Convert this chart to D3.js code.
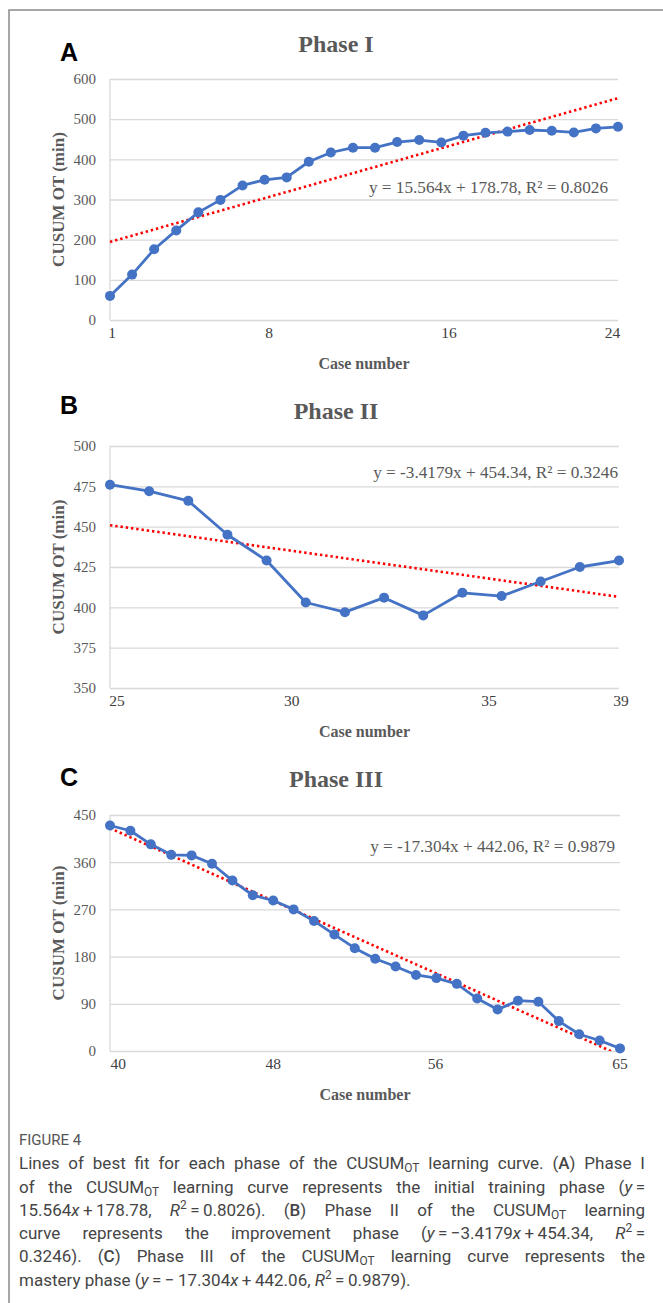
<!DOCTYPE html>
<html>
<head>
<meta charset="utf-8">
<script src="https://cdn.jsdelivr.net/npm/d3@7"></script>
<style>
  html, body { margin: 0; padding: 0; background: #fff; }
  body { width: 663px; height: 1303px; position: relative; overflow: hidden; }
  svg { position: absolute; left: 0; top: 0; }
  #caption { position: absolute; left: 19px; top: 1129px; width: 626px; font-family: Roboto, "Noto Sans", sans-serif; font-size: 17px; line-height: 23.3px; color: #454545; font-weight: 400; }
  #caption .ln { text-align: justify; text-align-last: justify; white-space: nowrap; }
  #caption .last { text-align: left; text-align-last: left; }
  #caption .fig { color: #555; font-size: 15px; font-weight: 400; }
  #caption sub { font-size: 70%; vertical-align: -0.25em; line-height: 0; }
  #caption sup { font-size: 70%; vertical-align: 0.55em; line-height: 0; }
  #caption b { font-weight: 500; }
</style>
</head>
<body>
<svg id="chart" width="663" height="1303"></svg>
<div id="caption">
  <div class="fig">FIGURE 4</div>
  <div class="ln">Lines of best fit for each phase of the CUSUM<sub>OT</sub> learning curve. (<b>A</b>) Phase I</div>
  <div class="ln">of the CUSUM<sub>OT</sub> learning curve represents the initial training phase (<i>y</i>&#8201;=</div>
  <div class="ln">15.564<i>x</i>&#8201;+&#8201;178.78, <i>R</i><sup>2</sup>&#8201;=&#8201;0.8026). (<b>B</b>) Phase II of the CUSUM<sub>OT</sub> learning</div>
  <div class="ln">curve represents the improvement phase (<i>y</i>&#8201;=&#8201;−3.4179<i>x</i>&#8201;+&#8201;454.34, <i>R</i><sup>2</sup>&#8201;=</div>
  <div class="ln">0.3246). (<b>C</b>) Phase III of the CUSUM<sub>OT</sub> learning curve represents the</div>
  <div class="ln last">mastery phase (<i>y</i>&#8201;=&#8201;−&#8201;17.304<i>x</i>&#8201;+&#8201;442.06, <i>R</i><sup>2</sup>&#8201;=&#8201;0.9879).</div>
</div>
<script>
// ---------- DATA ----------
const panelLetters = ["A", "B", "C"];
const panelTitles = ["Phase I", "Phase II", "Phase III"];

const phase1Values = [60, 113, 176, 223, 268, 299, 335, 349, 355, 394, 417, 429, 429, 443, 448, 442, 459, 466, 469, 473, 471, 467, 477, 481];
const phase2Values = [476, 472, 466, 445, 429, 403, 397, 406, 395, 409, 407, 416, 425, 429];
const phase3Values = [430, 420, 394, 374, 373, 357, 325, 297, 287, 270, 248, 222, 196, 176, 161, 145, 139, 128, 100, 79, 96, 94, 57, 32, 20, 5];

const trendSlopes = [15.564, -3.4179, -17.304];
const trendIntercepts = [178.78, 454.34, 442.06];
const trendR2 = ["0.8026", "0.3246", "0.9879"];

const yTicks1 = [0, 100, 200, 300, 400, 500, 600];
const yTicks2 = [350, 375, 400, 425, 450, 475, 500];
const yTicks3 = [0, 90, 180, 270, 360, 450];

const xTickLabels1 = ["1", "8", "16", "24"];
const xTickLabels2 = ["25", "30", "35", "39"];
const xTickLabels3 = ["40", "48", "56", "65"];
// positions of the tick labels along the point index (1 = first point)
const xTickIndex1 = [1.1, 8.2, 16.35, 23.75];
const xTickIndex2 = [1.18, 5.64, 10.68, 14.05];
const xTickIndex3 = [1.4, 9.0, 16.95, 26.0];

const yAxisTitle = "CUSUM OT (min)";
const xAxisTitle = "Case number";

// ---------- LAYOUT ----------
const layouts = [
  { top: 79, bottom: 320, left: 110, right: 618, titleY: 52, letterY: 61, eqX: 608, eqY: 193 },
  { top: 446, bottom: 688, left: 110, right: 619, titleY: 419, letterY: 414, eqX: 618, eqY: 478 },
  { top: 815, bottom: 1051, left: 110, right: 620, titleY: 787, letterY: 786, eqX: 615, eqY: 852 }
];
const panels = [
  { values: phase1Values, yTicks: yTicks1, xLabels: xTickLabels1, xIdx: xTickIndex1 },
  { values: phase2Values, yTicks: yTicks2, xLabels: xTickLabels2, xIdx: xTickIndex2 },
  { values: phase3Values, yTicks: yTicks3, xLabels: xTickLabels3, xIdx: xTickIndex3 }
];

const svg = d3.select("#chart");
const serif = "'Liberation Serif', 'Times New Roman', serif";
const textGray = "#595959";
const gridColor = "#d9d9d9";
const blue = "#4472C4";

// figure frame
svg.append("path")
  .attr("d", "M9,1303 L9,10 L663,10")
  .attr("fill", "none").attr("stroke", "#8a8a8a").attr("stroke-width", 1.5);

panels.forEach((p, i) => {
  const L = layouts[i];
  const n = p.values.length;
  const x = d3.scaleLinear().domain([1, n]).range([L.left, L.right]);
  const yMin = d3.min(p.yTicks), yMax = d3.max(p.yTicks);
  const y = d3.scaleLinear().domain([yMin, yMax]).range([L.bottom, L.top]);
  const g = svg.append("g");

  const clipId = "clip" + i;
  svg.append("clipPath").attr("id", clipId).append("rect")
    .attr("x", L.left - 1).attr("y", L.top).attr("width", L.right - L.left + 2).attr("height", L.bottom - L.top);

  const yAxis = d3.axisLeft(y).tickValues(p.yTicks).tickSize(-(L.right - L.left)).tickFormat(d3.format("d")).tickPadding(14);
  const ya = g.append("g").attr("transform", `translate(${L.left},0)`).call(yAxis);
  ya.select(".domain").remove();
  ya.selectAll(".tick line").attr("stroke", gridColor).attr("stroke-width", 1.3);
  ya.selectAll(".tick text").attr("font-family", serif).attr("font-size", 15).attr("fill", textGray);

  g.append("line").attr("x1", L.left).attr("x2", L.left).attr("y1", L.top).attr("y2", L.bottom)
    .attr("stroke", gridColor).attr("stroke-width", 1.3);

  g.selectAll(".xl").data(p.xLabels).enter().append("text")
    .attr("x", (d, k) => x(p.xIdx[k]))
    .attr("y", L.bottom + 18)
    .attr("text-anchor", "middle")
    .attr("font-family", serif).attr("font-size", 15.5).attr("fill", "#404040")
    .text(d => d);

  const a = trendSlopes[i], b = trendIntercepts[i];
  g.append("line")
    .attr("clip-path", `url(#${clipId})`)
    .attr("x1", x(1)).attr("y1", y(a * 1 + b))
    .attr("x2", x(n)).attr("y2", y(a * n + b))
    .attr("stroke", "#ff0000").attr("stroke-width", 2.6)
    .attr("stroke-dasharray", "2.4 2.9");

  const line = d3.line().x((d, k) => x(k + 1)).y(d => y(d));
  g.append("path").datum(p.values).attr("d", line)
    .attr("fill", "none").attr("stroke", blue).attr("stroke-width", 2.8).attr("stroke-linejoin", "round");
  g.selectAll(".pt").data(p.values).enter().append("circle")
    .attr("cx", (d, k) => x(k + 1)).attr("cy", d => y(d)).attr("r", 5)
    .attr("fill", blue);

  const sign = b >= 0 ? " + " : " - ";
  g.append("text").attr("x", L.eqX).attr("y", L.eqY).attr("text-anchor", "end")
    .attr("font-family", serif).attr("font-size", 17.2).attr("fill", textGray)
    .text(`y = ${a}x${sign}${Math.abs(b)}, R² = ${trendR2[i]}`);

  g.append("text").attr("x", 336).attr("y", L.titleY).attr("text-anchor", "middle")
    .attr("font-family", serif).attr("font-weight", "bold").attr("font-size", 24).attr("fill", textGray)
    .text(panelTitles[i]);

  g.append("text").attr("x", 60).attr("y", L.letterY)
    .attr("font-family", "'Liberation Sans', Arial, sans-serif").attr("font-weight", "bold").attr("font-size", 25).attr("fill", "#000")
    .text(panelLetters[i]);

  g.append("text").attr("x", (L.left + L.right) / 2).attr("y", L.bottom + 49).attr("text-anchor", "middle")
    .attr("font-family", serif).attr("font-weight", "bold").attr("font-size", 16).attr("fill", textGray)
    .text(xAxisTitle);
  g.append("text")
    .attr("transform", `translate(64,${(L.top + L.bottom) / 2}) rotate(-90)`)
    .attr("text-anchor", "middle")
    .attr("font-family", serif).attr("font-weight", "bold").attr("font-size", 17).attr("fill", textGray)
    .text(yAxisTitle);
});
</script>
</body>
</html>
